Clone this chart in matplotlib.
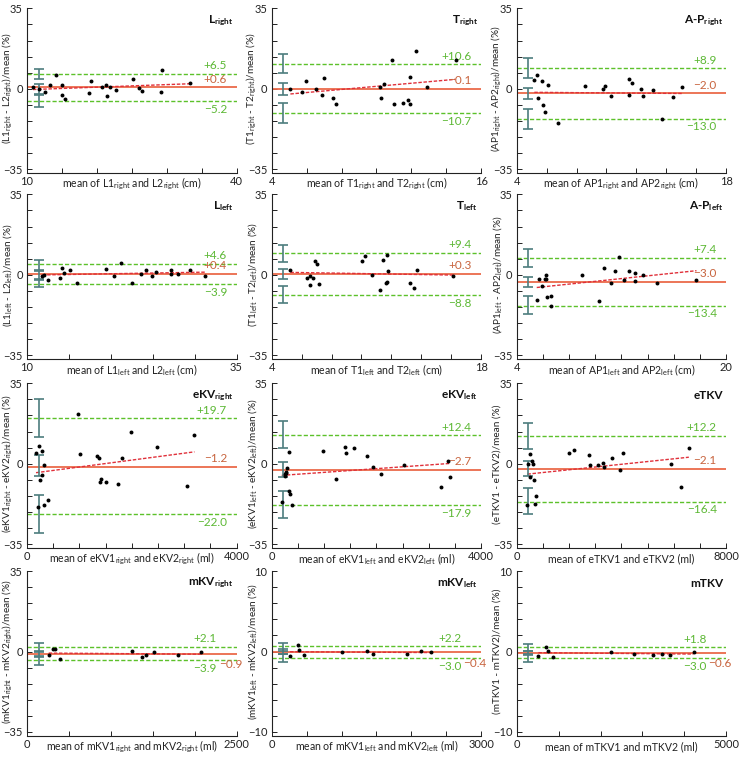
import numpy as np
import matplotlib
matplotlib.use('Agg')
import matplotlib.pyplot as plt

plt.rcParams['font.family'] = ['Lato', 'DejaVu Sans']
plt.rcParams['mathtext.fontset'] = 'custom'
plt.rcParams['mathtext.rm'] = 'Lato'
plt.rcParams['mathtext.it'] = 'Lato:italic'
plt.rcParams['mathtext.bf'] = 'Lato:bold'

# ---------------- data ----------------
titles = ['L$_{\\mathbf{right}}$', 'T$_{\\mathbf{right}}$', 'A-P$_{\\mathbf{right}}$',
          'L$_{\\mathbf{left}}$', 'T$_{\\mathbf{left}}$', 'A-P$_{\\mathbf{left}}$',
          'eKV$_{\\mathbf{right}}$', 'eKV$_{\\mathbf{left}}$', 'eTKV',
          'mKV$_{\\mathbf{right}}$', 'mKV$_{\\mathbf{left}}$', 'mTKV']

x_labels = ['mean of L1$_{\\mathrm{right}}$ and L2$_{\\mathrm{right}}$ (cm)',
            'mean of T1$_{\\mathrm{right}}$ and T2$_{\\mathrm{right}}$ (cm)',
            'mean of AP1$_{\\mathrm{right}}$ and AP2$_{\\mathrm{right}}$ (cm)',
            'mean of L1$_{\\mathrm{left}}$ and L2$_{\\mathrm{left}}$ (cm)',
            'mean of T1$_{\\mathrm{left}}$ and T2$_{\\mathrm{left}}$ (cm)',
            'mean of AP1$_{\\mathrm{left}}$ and AP2$_{\\mathrm{left}}$ (cm)',
            'mean of eKV1$_{\\mathrm{right}}$ and eKV2$_{\\mathrm{right}}$ (ml)',
            'mean of eKV1$_{\\mathrm{left}}$ and eKV2$_{\\mathrm{left}}$ (ml)',
            'mean of eTKV1 and eTKV2 (ml)',
            'mean of mKV1$_{\\mathrm{right}}$ and mKV2$_{\\mathrm{right}}$ (ml)',
            'mean of mKV1$_{\\mathrm{left}}$ and mKV2$_{\\mathrm{left}}$ (ml)',
            'mean of mTKV1 and mTKV2 (ml)']

y_labels = ['(L1$_{\\mathrm{right}}$ - L2$_{\\mathrm{right}}$)/mean (%)',
            '(T1$_{\\mathrm{right}}$ - T2$_{\\mathrm{right}}$)/mean (%)',
            '(AP1$_{\\mathrm{right}}$ - AP2$_{\\mathrm{right}}$)/mean (%)',
            '(L1$_{\\mathrm{left}}$ - L2$_{\\mathrm{left}}$)/mean (%)',
            '(T1$_{\\mathrm{left}}$ - T2$_{\\mathrm{left}}$)/mean (%)',
            '(AP1$_{\\mathrm{left}}$ - AP2$_{\\mathrm{left}}$)/mean (%)',
            '(eKV1$_{\\mathrm{right}}$ - eKV2$_{\\mathrm{right}}$)/mean (%)',
            '(eKV1$_{\\mathrm{left}}$ - eKV2$_{\\mathrm{left}}$)/mean (%)',
            '(eTKV1 - eTKV2)/mean (%)',
            '(mKV1$_{\\mathrm{right}}$ - mKV2$_{\\mathrm{right}}$)/mean (%)',
            '(mKV1$_{\\mathrm{left}}$ - mKV2$_{\\mathrm{left}}$)/mean (%)',
            '(mTKV1 - mTKV2)/mean (%)']

x_ranges = [(10, 40, 5), (4, 16, 2), (4, 18, 2),
            (10, 35, 5), (4, 18, 2), (4, 20, 2),
            (0, 4000, 500), (0, 4000, 500), (0, 8000, 1000),
            (0, 2500, 500), (0, 3000, 500), (0, 5000, 1000)]

y_tick_text = [('\u221235', '0', '35')] * 10 + [('\u221210', '0', '10')] * 2

# stats: upper LoA, bias, lower LoA
upper_loa = [6.5, 10.6, 8.9, 4.6, 9.4, 7.4, 19.7, 12.4, 12.2, 2.1, 2.2, 1.8]
bias = [0.6, -0.1, -2.0, 0.4, 0.3, -3.0, -1.2, -2.7, -2.1, -0.9, -0.4, -0.6]
lower_loa = [-5.2, -10.7, -13.0, -3.9, -8.8, -13.4, -22.0, -17.9, -16.4, -3.9, -3.0, -3.0]

# confidence intervals (low, high) for upper LoA, bias, lower LoA
ci_upper = [(4.3, 8.7), (6.8, 15.1), (4.6, 13.3), (2.2, 6.3), (5.5, 12.9), (3.4, 11.3),
            (11.8, 28.0), (6.9, 18.5), (6.6, 17.9), (0.0, 3.9), (0.3, 3.9), (0.1, 3.2)]
ci_bias = [(-2.3, 2.2), (-2.6, 2.5), (-4.3, 0.3), (-1.7, 1.8), (-1.8, 2.5), (-5.5, -0.9),
           (-5.5, 3.8), (-5.9, 0.6), (-5.1, 1.2), (-2.0, 0.2), (-0.9, 0.9), (-1.3, 0.1)]
ci_lower = [(-7.7, -2.8), (-14.9, -6.2), (-17.4, -8.7), (-5.4, -2.2), (-12.3, -5.0), (-17.0, -9.3),
            (-29.9, -13.7), (-23.5, -11.8), (-21.8, -10.7), (-5.8, -2.2), (-4.6, -1.0), (-4.4, -1.5)]

# points: mean of measurements, relative difference (%)
l_right_x = [10.86, 11.67, 12.53, 13.34, 14.2, 15.0, 15.0, 15.4, 18.9, 19.2, 20.8, 21.3, 21.4, 21.9,
             22.8, 25.2, 26.0, 26.5, 29.2, 29.3, 33.3]
l_right_y = [1.0, 0.0, -1.6, 1.6, 5.9, 1.6, -2.6, -4.5, -2.0, 3.2, 1.0, 1.6, -3.2, 1.0,
             -0.4, 4.3, 0.4, -1.0, -1.6, 8.0, 2.6]
t_right_x = [5.07, 5.72, 5.97, 6.54, 6.87, 7.0, 7.5, 7.69, 10.21, 10.25, 10.44, 10.9, 11.0, 11.5,
             11.83, 11.93, 11.95, 12.27, 12.9, 14.53]
t_right_y = [0.0, -1.4, 3.5, 0.0, -2.9, 4.5, -3.9, -6.4, 1.0, -3.9, 2.0, 12.5, -6.4, -6.0,
             -4.9, 5.1, -6.7, 16.5, 1.0, 12.5]
ap_right_x = [5.18, 5.36, 5.40, 5.72, 5.78, 5.89, 6.07, 6.76, 8.55, 9.80, 9.93, 10.33, 11.49, 11.51,
              11.73, 12.29, 12.47, 13.12, 13.72, 14.43, 15.03]
ap_right_y = [3.9, 5.8, -3.8, 3.5, -7.0, -10.3, 1.7, -14.9, 1.2, 0.0, 1.2, -3.0, 4.3, -2.6,
              2.6, 0.0, -3.2, -0.7, -13.0, -3.5, 0.9]
l_left_x = [11.79, 11.99, 12.51, 13.90, 14.22, 14.38, 15.10, 15.93, 19.47, 20.39, 21.27, 22.54, 23.57,
            24.17, 24.93, 25.37, 27.24, 27.2, 28.07, 29.5, 31.26]
l_left_y = [-0.6, 0.1, -2.2, -1.3, 3.0, 0.9, 2.1, -3.6, 2.7, -0.4, 5.3, -3.4, 0.5,
            2.1, -0.6, 1.2, 2.1, 0.5, 0.5, 2.1, -0.6]
t_left_x = [5.25, 6.34, 6.54, 6.56, 6.74, 6.88, 7.05, 7.14, 10.06, 10.26, 10.67, 11.27, 11.42, 11.65,
            11.69, 11.71, 11.78, 13.21, 13.50, 13.74, 16.13]
t_left_y = [2.1, -1.5, -0.4, -4.4, -1.2, 6.1, 4.5, -4.1, 6.1, 8.0, 0.1, -6.8, 6.4, -3.6,
            8.7, -3.0, 1.8, -3.5, -5.7, 2.2, -0.4]
ap_left_x = [5.53, 5.71, 5.96, 6.17, 6.22, 6.24, 6.32, 6.65, 6.65, 8.99, 10.29, 10.68, 11.21, 11.49,
             11.82, 12.23, 12.61, 13.02, 13.04, 13.61, 14.73, 17.73]
ap_left_y = [-11.0, -1.8, -4.9, -1.7, 0.1, -1.7, -9.5, -9.1, -13.6, 0.1, -11.6, 2.9, -3.5, 1.8,
             7.7, -2.4, 1.6, 0.9, -2.9, 0.1, -3.5, -2.4]
ekv_right_x = [172, 223, 287, 325, 242, 293, 210, 325, 395, 975, 1019, 1338, 1376, 1389, 1408, 1516,
               1732, 1809, 1981, 2484, 3064, 3197]
ekv_right_y = [4.6, 7.6, 5.6, -0.6, -6.9, -5.0, -18.9, -17.7, -15.6, 21.6, 4.3, 3.3, 2.7, -7.9, -6.5,
               -7.9, -8.8, 2.5, 13.9, 7.5, -9.7, 12.7]
ekv_left_x = [191, 248, 261, 274, 280, 299, 338, 338, 344, 389, 975, 1223, 1408, 1414, 1573, 1815,
              1936, 2083, 2522, 3223, 3357, 3408]
ekv_left_y = [-16.6, -4.3, -5.2, -3.8, -3.6, -1.7, 5.1, -11.8, -13.3, -17.9, 5.6, -6.5, 7.1, 4.8, 6.9,
              3.2, -1.3, -4.3, -0.4, -10.1, 1.3, -5.6]
etkv_x = [408, 446, 522, 599, 624, 522, 675, 726, 713, 1987, 2204, 2752, 2803, 3096, 3312, 3338,
          3631, 3936, 4076, 5898, 6293, 6573]
etkv_y = [-18.0, -0.3, 4.3, 1.0, 0.1, -5.8, -7.2, -14.0, -17.5, 4.8, 5.9, 4.0, -0.6, -0.6, 0.3, -1.4,
          2.6, -2.7, 4.5, -0.1, -10.0, 6.9]
mkv_right_x = [259, 307, 338, 390, 1258, 1373, 1425, 1517, 1799, 2074]
mkv_right_y = [-1.6, 0.9, 1.3, -3.3, 0.1, -2.5, -1.6, -0.4, -1.6, -0.4]
mkv_left_x = [263, 382, 397, 468, 1003, 1366, 1452, 1944, 2135, 2279]
mkv_left_y = [-2.0, 2.9, 0.6, -1.5, -0.4, 0.1, -1.2, -1.2, 0.1, 0.0]
mtkv_x = [518, 693, 748, 860, 2261, 2795, 3256, 3471, 3662, 4220]
mtkv_y = [-1.9, 1.9, 0.3, -2.5, -0.1, -1.0, -1.6, -1.2, -1.5, -0.3]

points_x = [l_right_x, t_right_x, ap_right_x, l_left_x, t_left_x, ap_left_x,
            ekv_right_x, ekv_left_x, etkv_x, mkv_right_x, mkv_left_x, mtkv_x]
points_y = [l_right_y, t_right_y, ap_right_y, l_left_y, t_left_y, ap_left_y,
            ekv_right_y, ekv_left_y, etkv_y, mkv_right_y, mkv_left_y, mtkv_y]

# ---------------- style ----------------
GREEN = '#5cc12a'
GREEN_TXT = '#5cb834'
BIAS = '#ea6a4a'
BIAS_TXT = '#c8643e'
REG = '#e0303a'
CI = '#4d7d7e'

W, H = 740, 758
col_left = [27, 271.7, 516.7]
ax_w = 209.5
row_top = [8.3, 194.3, 383.3, 571.0]
ax_h = 161.0

fig = plt.figure(figsize=(W / 100, H / 100), dpi=100)

for i in range(12):
    r, c = divmod(i, 3)
    ax = fig.add_axes([col_left[c] / W, 1 - (row_top[r] + ax_h) / H, ax_w / W, ax_h / H])
    x0, x1, xs = x_ranges[i]
    ax.set_xlim(x0, x1)
    ax.set_ylim(-35, 35)

    for s in ['top', 'right']:
        ax.spines[s].set_visible(False)
    ax.spines['bottom'].set_position(('outward', 3))
    for s in ['left', 'bottom']:
        ax.spines[s].set_linewidth(0.8)
        ax.spines[s].set_color('#222222')

    xt = np.arange(x0, x1 + xs / 2, xs)
    ax.set_xticks(xt)
    ax.set_xticklabels([str(x0)] + [''] * (len(xt) - 2) + [str(x1)])
    yt = np.arange(-35, 36, 7)
    ax.set_yticks(yt)
    lo, mid, hi = y_tick_text[i]
    ax.set_yticklabels([lo] + [''] * 4 + [mid] + [''] * 4 + [hi])
    ax.tick_params(direction='in', length=3.5, width=0.7, labelsize=8, pad=3, colors='#222222')
    ax.tick_params(axis='x', pad=2)

    # lines
    ax.axhline(upper_loa[i], color=GREEN, lw=1.0, ls=(0, (3, 1.5)), zorder=2)
    ax.axhline(lower_loa[i], color=GREEN, lw=1.0, ls=(0, (3, 1.5)), zorder=2)
    ax.axhline(bias[i], color=BIAS, lw=1.3, zorder=2)

    px = np.array(points_x[i], dtype=float)
    py = np.array(points_y[i], dtype=float)
    k, b = np.polyfit(px, py, 1)
    rx = np.array([px.min(), px.max()])
    ax.plot(rx, k * rx + b, color=REG, lw=1.0, ls=(0, (2.5, 1.2)), zorder=3)

    ax.scatter(px, py, s=8, color='black', zorder=4, linewidths=0)

    # CI error bars
    exx = x0 + 0.056 * (x1 - x0)
    for (a, bb) in (ci_upper[i], ci_bias[i], ci_lower[i]):
        ax.errorbar([exx], [(a + bb) / 2], yerr=[[(bb - a) / 2], [(bb - a) / 2]],
                    fmt='none', ecolor=CI, elinewidth=1.2, capsize=3.5, capthick=1.2, zorder=3)

    # stat labels
    tr = ax.get_yaxis_transform()
    fmt = lambda v: ('+' if v > 0 else '\u2212') + f'{abs(v):.1f}'
    if r < 3:
        ax.annotate(fmt(upper_loa[i]), (0.955, upper_loa[i]), xycoords=tr, xytext=(0, 2),
                    textcoords='offset points', ha='right', va='bottom', color=GREEN_TXT, fontsize=8.5)
        ax.annotate(fmt(bias[i]), (0.955, bias[i]), xycoords=tr, xytext=(0, 2),
                    textcoords='offset points', ha='right', va='bottom', color=BIAS_TXT, fontsize=8.5)
        ax.annotate(fmt(lower_loa[i]), (0.955, lower_loa[i]), xycoords=tr, xytext=(0, -2),
                    textcoords='offset points', ha='right', va='top', color=GREEN_TXT, fontsize=8.5)
    else:
        ax.annotate(fmt(upper_loa[i]), (0.905, upper_loa[i]), xycoords=tr, xytext=(0, 2),
                    textcoords='offset points', ha='right', va='bottom', color=GREEN_TXT, fontsize=8.5)
        ax.annotate(fmt(lower_loa[i]), (0.905, lower_loa[i]), xycoords=tr, xytext=(0, -2),
                    textcoords='offset points', ha='right', va='top', color=GREEN_TXT, fontsize=8.5)
        ax.annotate(fmt(bias[i]), (0.915, bias[i]), xycoords=tr, xytext=(0, -8),
                    textcoords='offset points', ha='left', va='center', color=BIAS_TXT, fontsize=8.5)

    ax.text(0.985, 0.925, titles[i], transform=ax.transAxes, ha='right', va='center',
            fontsize=8.5, fontweight='bold', color='#111111')
    ax.text(0.5, -0.09, x_labels[i], transform=ax.transAxes, ha='center', va='center',
            fontsize=7.6, color='#222222')
    ax.text(-0.092, 0.5, y_labels[i], transform=ax.transAxes, ha='center', va='center',
            rotation=90, fontsize=7.2, color='#222222')

fig.savefig('out.png', dpi=100)
